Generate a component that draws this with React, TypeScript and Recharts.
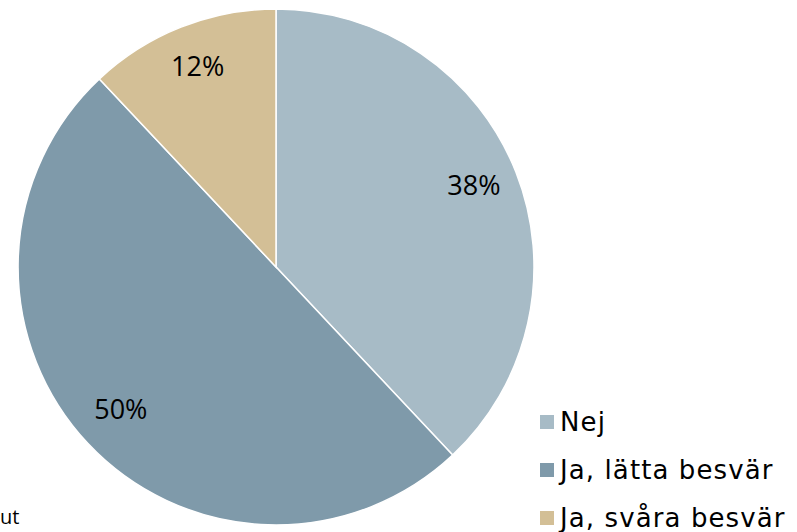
import { PieChart, Pie, Cell } from "recharts";

const categories = ["Nej", "Ja, lätta besvär", "Ja, svåra besvär"];
const shares = [38, 50, 12];
const colors = ["#A7BBC6", "#7F9AAA", "#D3BF96"];

const data = categories.map((name, i) => ({ name, value: shares[i] }));

const RAD = Math.PI / 180;

function renderLabel(props: any) {
  const { cx, cy, midAngle, outerRadius, value } = props;
  const r = outerRadius * 0.825;
  const x = cx + r * Math.cos(-midAngle * RAD);
  const y = cy + r * Math.sin(-midAngle * RAD) - 4;
  return (
    <text
      x={x}
      y={y}
      textAnchor="middle"
      dominantBaseline="central"
      fill="#000"
      fontSize={27}
      fontFamily="Open Sans, sans-serif"
    >
      {value}%
    </text>
  );
}

function LegendBox() {
  return (
    <div
      style={{
        position: "absolute",
        left: 540,
        top: 398,
        fontFamily: "DejaVu Sans, sans-serif",
        fontSize: 26,
        letterSpacing: 1.1,
      }}
    >
      {data.map((d, i) => (
        <div key={d.name} style={{ display: "flex", alignItems: "center", height: 48, whiteSpace: "nowrap" }}>
          <span
            style={{
              width: 14,
              height: 14,
              background: colors[i],
              display: "inline-block",
              marginRight: 6,
            }}
          />
          <span style={{ color: "#000" }}>{d.name}</span>
        </div>
      ))}
    </div>
  );
}

export default function App() {
  return (
    <div style={{ position: "absolute", left: 0, top: 0, width: 797, height: 532, background: "#fff", overflow: "hidden" }}>
      <PieChart width={797} height={532} margin={{ top: 0, right: 0, bottom: 0, left: 0 }}>
        <Pie
          data={data}
          dataKey="value"
          cx={276}
          cy={267}
          outerRadius={258}
          startAngle={90}
          endAngle={-270}
          stroke="#fff"
          strokeWidth={1.5}
          label={renderLabel}
          labelLine={false}
          isAnimationActive={false}
        >
          {data.map((d, i) => (
            <Cell key={d.name} fill={colors[i]} />
          ))}
        </Pie>
      </PieChart>
      <LegendBox />
      <div
        style={{
          position: "absolute",
          left: 0,
          top: 504,
          fontFamily: "Open Sans, sans-serif",
          fontSize: 20,
          color: "#000",
          lineHeight: "26px",
        }}
      >
        ut
      </div>
    </div>
  );
}
